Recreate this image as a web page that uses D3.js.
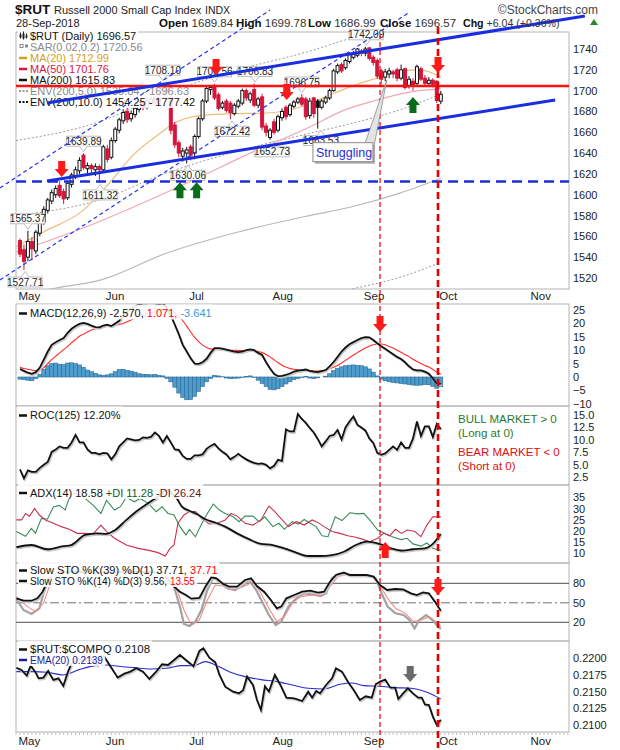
<!DOCTYPE html>
<html>
<head>
<meta charset="utf-8">
<script src="https://cdn.jsdelivr.net/npm/d3@7"></script>
<style>
  body { margin: 0; background: #fff; }
</style>
</head>
<body>
<div id="chart"></div>
<script>
// ---- data (index 0 = 30-Apr-2018, 106 = 28-Sep-2018) ----
const monthTicks = [["May", 1], ["Jun", 23], ["Jul", 44], ["Aug", 65], ["Sep", 88], ["Oct", 107], ["Nov", 130]];

const opens = [1556,1547,1540,1555,1546,1563,1574,1585,1594,1600,
  1609,1603,1597,1610,1618,1623,1638,1625,1628,1624,
  1627,1624,1644,1636,1652,1662,1671,1680,1673,1677,
  1682,1690,1684,1688,1693,1688,1695,1706,1694,1667,
  1650,1637,1640,1646,1640,1656,1673,1690,1701,1705,
  1696,1684,1690,1688,1678,1685,1688,1700,1691,1701,
  1686,1694,1666,1655,1670,1662,1674,1684,1677,1685,
  1689,1693,1692,1676,1693,1690,1684,1689,1693,1700,
  1718,1725,1722,1728,1732,1734,1738,1736,1741,1732,
  1729,1719,1713,1716,1718,1720,1712,1721,1705,1709,
  1707,1721,1712,1707,1710,1709,1689.84];
const highs = [1558,1552,1565.37,1559,1566,1578,1589,1597,1605,1609,
  1613,1606,1613,1621,1627,1636,1639.89,1631,1630,1630,
  1629,1648,1648,1655,1665,1674,1682,1684,1681,1686,
  1691,1693,1694,1696,1696,1697,1708.10,1707,1695,1670,
  1652,1645,1646,1648,1658,1675,1692,1704,1705,1706.56,
  1698,1690,1692,1690,1688,1692,1702,1702,1699,1706.83,
  1694,1697,1669,1664,1673,1677,1683,1686,1688,1691,
  1694,1696.75,1694,1693,1694,1692,1692,1695,1702,1721,
  1726,1727,1731,1737,1738,1741,1740,1742.09,1742,1734,
  1731,1721,1721,1722,1720,1722,1725,1722,1714,1712,
  1725,1723,1715,1713,1712,1710,1699.78];
const lows = [1540,1527.71,1536,1538,1543,1560,1571,1582,1591,1597,
  1597,1591,1595,1607,1615,1620,1624,1620,1619,1618,
  1611.32,1622,1631,1634,1650,1659,1668,1669,1670,1674,
  1679,1681,1682,1685,1684,1686,1693,1694,1658,1645,
  1636,1632,1630.06,1633,1634,1654,1671,1688,1696,1691,
  1681,1682,1679,1672.42,1676,1683,1686,1690,1688,1684,
  1683,1662,1656,1652.73,1658,1660,1671,1672,1675,1683,
  1687,1685,1672,1673,1674,1663.53,1682,1687,1691,1699,
  1716,1717,1720,1726,1730,1732,1733,1733,1729,1724,
  1711,1706,1709,1712,1712,1709,1710,1701,1702,1700,
  1705,1709,1705,1705,1703,1688,1686.99];
const closes = [1543,1536,1555,1548,1564,1575,1586,1595,1602,1606,
  1599,1596,1611,1619,1624,1633,1626,1628,1625,1627,
  1624,1646,1634,1652,1663,1672,1679,1672,1678,1683,
  1689,1684,1690,1692,1688,1694,1704,1697,1662,1648,
  1640,1642,1643,1638,1656,1673,1690,1702,1703,1693,
  1683,1688,1681,1679,1686,1690,1700,1693,1697,1686,
  1692,1665,1660,1662,1660,1675,1680,1675,1686,1689,
  1692,1687,1675,1690,1678,1684,1690,1693,1700,1719,
  1724,1719,1729,1735,1735,1740,1736,1740,1731,1727,
  1714,1711,1718,1719,1716,1712,1720,1703,1711,1705,
  1723,1711,1707,1710,1706,1690.53,1696.57];

// overlays read as [day index, value]
const ma20 = [[-1,1550],[5.8,1564],[15.9,1585],[22.7,1612],[28.5,1638],[35.3,1659],[38.5,1668],[45.3,1676],[53.7,1678],[62.2,1678.5],[70.5,1684],[78.8,1697],[85.6,1707],[90.7,1713],[95.7,1719],[100.8,1720],[106,1712.99]];
const ma50 = [[-1,1545],[15.9,1568],[28.5,1588],[45.3,1617],[58,1640],[73,1665],[81.5,1681],[90,1691],[98.7,1699],[106,1701.76]];
const ma200 = [[-1,1503],[10,1511],[20.2,1518],[37,1544],[53.7,1563],[73,1580],[83.1,1588],[95.7,1601.6],[106,1615.83]];
const envUp5 = [[-1,1580],[20,1595],[37,1621],[54,1641],[73,1659],[83,1668],[96,1682],[106,1696.63]];
const envUp10 = [[-1,1652],[20,1670],[37,1698],[54,1719],[73,1738],[83,1750],[96,1764],[106,1777.42]];
const envDn5 = [[-1,1428],[20,1442],[37,1467],[54,1485],[73,1501],[83,1509],[96,1521],[106,1535.04]];

const macd = [3.0,2.3,1.6,1.2,1.8,3.5,6.5,9.5,12.0,13.0,
  13.8,14.5,16.5,18.0,19.0,19.8,20.2,19.8,19.2,18.6,
  18.5,19.2,19.5,19.0,20.0,21.0,23.0,24.5,25.5,26.5,
  27.0,27.5,27.5,27.8,27.5,27.2,27.5,26.0,23.0,19.5,
  16.0,12.0,9.5,7.0,5.0,4.9,5.5,6.8,9.0,10.8,
  10.8,10.6,10.2,9.8,9.5,9.3,9.5,10.0,10.3,10.0,
  9.0,8.2,5.5,3.2,1.2,0.3,0.4,0.8,1.3,2.0,
  2.4,2.6,2.8,2.3,2.0,1.8,2.2,2.6,4.0,5.6,
  7.5,9.5,11.0,12.2,13.0,13.8,14.5,14.9,14.8,13.8,
  12.6,11.5,10.5,9.5,8.5,7.5,6.7,5.5,4.0,2.8,
  2.5,2.5,2.0,1.2,-0.5,-2.4,-2.57];
const signal = [3.6,3.2,2.9,2.6,2.4,2.6,3.5,5.0,6.5,7.8,
  9.0,10.2,11.4,12.8,14.0,15.2,16.0,16.8,17.5,18.0,
  18.4,18.7,19.0,19.2,19.4,19.6,20.0,20.6,21.3,22.0,
  22.6,23.2,23.6,24.0,24.3,24.6,24.9,25.0,24.7,24.0,
  22.8,21.0,19.0,16.8,14.8,13.2,11.9,11.0,10.5,10.3,
  10.2,10.1,10.1,10.0,10.0,9.9,9.9,9.9,9.8,9.7,
  9.5,9.1,8.4,7.5,6.4,5.4,4.4,3.7,3.2,2.9,
  2.7,2.5,2.4,2.3,2.2,2.2,2.3,2.6,3.0,3.6,
  4.3,5.2,6.2,7.2,8.2,9.1,10.0,10.8,11.5,12.0,
  12.3,12.3,12.0,11.4,10.8,10.0,9.2,8.4,7.6,6.6,
  5.8,5.0,4.3,3.7,2.8,1.8,1.07];
const histogram = [-0.8,-1.0,-1.2,-1.4,-0.6,1.0,2.8,4.2,5.0,5.2,
  4.8,4.6,5.2,5.3,5.0,4.5,3.6,2.6,2.0,1.4,
  0.8,0.6,0.8,1.2,2.0,2.8,2.8,2.4,2.2,1.8,
  1.2,1.0,1.0,0.8,1.0,0.6,0.4,-0.5,-1.8,-3.8,
  -6.0,-7.6,-8.5,-8.4,-7.2,-5.4,-3.6,-1.8,-0.6,0.6,
  0.4,0.1,-0.4,-0.6,-0.5,-0.4,-0.2,0.2,0.4,-0.2,
  -1.2,-2.4,-3.6,-4.6,-4.8,-4.4,-3.6,-2.6,-1.8,-1.0,
  -0.6,-0.2,0.2,-0.4,-0.6,-0.3,0.0,0.3,1.2,2.4,
  3.2,3.8,4.2,4.4,4.5,4.3,4.2,3.8,3.0,1.8,
  0.4,-0.8,-1.4,-1.8,-2.0,-2.2,-2.4,-2.6,-2.8,-3.0,
  -3.1,-3.0,-2.8,-2.9,-3.5,-4.2,-3.64];

const roc = [4.1,2.3,3.9,3.6,3.6,4.4,5.0,5.6,7.6,8.1,
  8.7,8.4,8.4,9.5,11.0,9.5,9.5,8.1,7.4,7.4,
  7.1,7.4,7.3,6.1,7.1,8.7,9.5,10.3,10.1,9.9,
  10.0,10.5,10.4,10.6,11.5,10.8,9.5,10.8,9.5,8.1,
  8.0,6.8,6.2,6.2,6.9,6.9,7.1,8.2,8.8,9.2,
  8.3,7.6,7.1,6.1,6.6,7.2,6.6,6.1,5.7,5.4,
  5.2,5.3,5.0,4.3,4.8,6.0,5.8,12.1,11.7,11.7,
  15.2,14.2,13.4,12.4,11.5,10.2,8.7,9.7,10.8,11.0,
  12.0,10.1,12.5,13.7,14.7,13.0,12.5,11.9,10.3,9.4,
  7.4,7.0,7.3,8.0,8.7,8.0,9.5,8.4,8.4,10.3,
  13.7,10.8,12.7,12.7,10.6,13.2,12.2];

const adx = [[-0.9,12.7],[2.9,13.7],[6.9,11.8],[10.9,13.2],[12.9,13.7],[16.4,18.2],[19.4,18.9],[21.8,18.7],[23.8,20.2],[26.8,24.9],[29.8,29.3],[32.8,33],[35.3,36],[37,38.5],[38.3,36.5],[39.5,34.5],[40.8,30.8],[42.7,29],[44.7,27.4],[46.7,25.2],[49.2,23.7],[51.7,21.9],[54.7,18.9],[57.7,16.3],[60.7,14.2],[63.7,13.7],[66.6,12.2],[69.6,10.3],[72.6,8.8],[75.6,8.8],[78.6,9.2],[81.6,10.7],[84.6,13.7],[87.5,15.2],[90.5,14.2],[93.5,12.2],[96.5,11.2],[98.9,11.8],[102,12.2],[104,14.2],[106,18.58]];
const plusDI = [[-0.9,19.7],[1.4,17.6],[2.9,21.1],[3.9,19],[5.4,25.6],[6.9,25.2],[8.4,30.7],[9.9,31.4],[11.4,29.4],[12.4,34.6],[13.4,37],[14.5,36],[16.4,34.5],[18.4,31.5],[20.4,27.8],[21.8,33.7],[23.8,29.3],[25.3,30.8],[26.8,35],[28.8,33],[30.3,34.5],[32.3,32.3],[34.3,28.6],[35.8,30.8],[37.3,27.8],[38.8,27.1],[40.3,21.9],[41.8,18.2],[42.7,20.7],[44.2,17.4],[45.2,21.1],[46.7,26.3],[48.7,32],[50.2,29.3],[51.7,27.8],[53.7,26.3],[55.2,24.1],[56.7,26.6],[58.7,26.6],[60.2,24.1],[61.7,26.3],[63.7,21.9],[65.2,23.4],[66.6,20.7],[68.6,24.1],[70.1,23],[71.6,25.1],[73.1,23.4],[74.6,21.9],[76.1,17.8],[77.6,17.4],[79.4,26.3],[81.1,24.6],[83.1,28.1],[85.1,27.6],[86.6,27.8],[88.1,24.9],[90.1,20.4],[92.1,18.7],[94.1,17.2],[96,16.1],[97.5,16.7],[99,14.2],[101,13.2],[102.5,14.6],[104,12.2],[106,11.28]];
const minusDI = [[-0.9,24.9],[0.4,24.9],[1.4,27.8],[2.4,26.6],[3.7,30],[4.9,27.1],[6.4,24.9],[8.4,23.4],[10.4,21.9],[12.4,20.7],[14.4,18.9],[16.4,18.9],[18.4,18.6],[20.4,22.6],[21.8,19.7],[23.8,16.7],[26.8,13.7],[29.8,12.2],[32.8,11.2],[34.8,10.3],[36.6,8.8],[37.8,12.2],[38.8,13.7],[39.8,23.4],[41.3,27.1],[42.7,28.6],[44.2,28.6],[45.7,25.6],[47.7,23.1],[49.7,23.4],[51.7,24.9],[53.2,27.8],[54.7,26.6],[56.7,23.4],[58.7,22.6],[60.7,24.9],[62.7,31.1],[64.2,28.6],[65.7,25.6],[67.6,21.9],[69.6,24.1],[71.6,22.6],[73.6,24.9],[75.1,23.7],[76.6,21.9],[78.6,19.7],[80.6,18.9],[82.6,17.8],[84.6,17.2],[86.6,16.1],[88.1,15.2],[90.1,16.7],[91.6,18.9],[93.1,17.8],[94.6,20.7],[96.1,18.9],[97.6,20.4],[99.5,19.7],[101,17.4],[102.5,22.6],[104,26.3],[106,26.24]];

const stoK39 = [[-0.9,56.9],[0.9,53.2],[2.9,53.2],[4.4,56.9],[5.7,67.1],[6.7,80],[8,92],[10,97],[14,98],[20,96],[26,97],[32,98],[36,95],[37.5,85],[38.8,74.8],[40.3,67.1],[41.8,62],[43.2,56.4],[45.2,57.4],[46.7,74.8],[48.2,89.2],[49.5,87.7],[51.2,78.9],[52.7,74.8],[54.7,74.8],[56.7,85.1],[58.2,87.7],[59.7,75.8],[61.5,67.1],[63.2,54.3],[64.7,41.5],[65.8,44.1],[67.1,56.9],[69.1,62],[71.1,67.1],[73.1,68.6],[75.1,65.6],[76.6,67.1],[78.1,82.5],[79.6,92.8],[81.6,96.4],[83.1,92.8],[85.1,92.8],[87.1,92.8],[89.1,90.2],[90.7,77.3],[92.5,69.7],[94.5,71.2],[96.5,70.7],[98.5,64.6],[100,62],[101.5,66.1],[103,64.6],[104.5,51.8],[106,37.71]];
const stoK14 = [[-0.9,55.4],[0.9,38.9],[2.9,32.8],[4.9,41.5],[6.4,74.8],[7.5,90],[10,95],[12,85],[14,95],[18,90],[20,75],[22,90],[26,95],[30,92],[34,88],[37,90],[38.8,74.8],[40.3,44.1],[41.3,17.4],[42.7,14.3],[44.2,21],[45.7,38.9],[47.2,69.7],[48.7,89.2],[50.2,82.5],[52.2,72.3],[54.2,69.7],[56.2,77.3],[57.8,84],[59.5,69.7],[61.2,49.2],[62.7,31.2],[64.4,15.8],[65.8,21],[67.6,44.1],[69.6,56.9],[71.6,64.6],[73.6,63.1],[75.6,60.5],[77.1,64.6],[78.6,87.7],[80.1,94.4],[81.6,96.4],[83.6,91.3],[85.6,91.3],[87.6,92.8],[89.6,87.7],[91.1,64.6],[92.6,44.1],[94.6,33.8],[96.6,31.3],[98.1,23.6],[99.4,10.8],[100.6,23.6],[102.3,31.2],[103.7,24.6],[105,15.8],[106,9.56]];
const stoD3 = [[-0.9,59.5],[1.9,44.1],[3.9,36.4],[5.9,49.2],[7.4,74.8],[9,90],[12,90],[16,90],[20,82],[24,90],[30,92],[36,88],[39.3,74.8],[41.3,38.9],[43.2,15.8],[45.2,23.6],[47.2,54.3],[49.2,77.3],[51.2,75.8],[53.7,69.7],[56.7,75.8],[58.7,82.5],[60.7,64.6],[62.7,41.5],[64.7,21],[66.6,28.7],[68.6,49.2],[70.6,59.5],[73.6,62],[76.1,60.5],[78.1,74.8],[80.1,90.2],[82.6,94.4],[85.6,91.3],[88.6,91.3],[90.6,77.3],[92.6,56.9],[94.6,41.5],[97.1,33.8],[99.1,21],[101.1,23.6],[103.1,28.7],[105.1,19.5],[106,13.55]];

const ratio = [[-0.9,0.21859],[0.4,0.21825],[1.7,0.2174],[2.7,0.2189],[3.9,0.2179],[4.7,0.2170],[5.9,0.2171],[7.1,0.2181],[8.4,0.21675],[9.7,0.2170],[10.9,0.21585],[12.1,0.2180],[12.9,0.2191],[14.5,0.2200],[16,0.2197],[17.5,0.2202],[19.4,0.2190],[20.7,0.22075],[21.8,0.2197],[23.1,0.2185],[24.6,0.2171],[26.3,0.2177],[27.8,0.2180],[29.3,0.2185],[31,0.2180],[32.6,0.2169],[34.3,0.2180],[35.8,0.2191],[37.3,0.2190],[38.8,0.21975],[40.3,0.2205],[41.8,0.21975],[43.7,0.2188],[45.2,0.2211],[46.2,0.2215],[47.7,0.2201],[49.2,0.2194],[50.2,0.2176],[51.7,0.21575],[53.7,0.2150],[55.2,0.21475],[56.2,0.2152],[57.2,0.21725],[58.7,0.2160],[59.7,0.21375],[60.7,0.21225],[61.7,0.2158],[62.7,0.2150],[64.2,0.2175],[65.6,0.2160],[67.1,0.2141],[69.1,0.2140],[71.1,0.2136],[72.6,0.2150],[73.6,0.2141],[74.6,0.2151],[75.6,0.21475],[77.1,0.2160],[78.6,0.2170],[79.6,0.2185],[81.1,0.2180],[82.6,0.2165],[84.1,0.2152],[85.6,0.21375],[87.1,0.2143],[88.6,0.2141],[89.6,0.2161],[90.7,0.2165],[92,0.2168],[93.3,0.2156],[94.5,0.2156],[95.3,0.2139],[96.5,0.21475],[97.7,0.2155],[99,0.21475],[100.3,0.2141],[101.2,0.2141],[102,0.2131],[103,0.2130],[104,0.21125],[105,0.2100],[106,0.2108]];
const ratioEma = [[-0.9,0.2180],[2.9,0.2180],[6.9,0.2179],[10.9,0.2175],[14.9,0.2183],[18.9,0.2189],[21.8,0.2190],[24.8,0.2188],[28.8,0.2186],[32.8,0.2184],[36.8,0.2185],[40.8,0.2189],[43.7,0.2189],[46.7,0.2195],[49.2,0.2190],[52.7,0.2180],[56.7,0.21725],[60.7,0.2168],[64.7,0.2165],[68.6,0.2160],[72.6,0.2155],[76.6,0.2154],[80.6,0.2161],[83.6,0.2163],[86.6,0.2159],[90.6,0.2158],[94.6,0.2156],[98.5,0.2155],[102.5,0.2149],[106,0.2139]];

// annotations on the price chart, in [day index, price]
const priceLabels = [[1.3,1527.71,"L"],[2,1565.37,"H"],[16,1639.89,"H"],[20.2,1611.32,"L"],[36,1708.10,"H"],[42.3,1630.06,"L"],[49,1706.56,"H"],[53.4,1672.42,"L"],[59.2,1706.83,"H"],[63.5,1652.73,"L"],[71,1696.75,"H"],[75.8,1663.53,"L"],[87.2,1742.09,"H"]];
const upperTrend = [[6.8,1688.1],[142.3,1771.7]];
const lowerTrend = [[6.8,1613.2],[134.8,1691]];
const channelA = [[-5.04,1606.5],[63,1777.5]];
const channelB = [[-5.04,1518.1],[98.2,1775.5]];
const supportLevel = 1612.7;
const resistLevel = 1704.5;
const markerDays = [90.7, 105.3];

// ---- layout ----
const FONT = '"Liberation Sans", Arial, sans-serif';
const X0 = 16, X1 = 569;
const x = d3.scaleLinear().domain([-1, 138.3]).range([X0, X1]);
const yPrice = d3.scaleLinear().domain([1520, 1740]).range([278, 49]);
const yMacd = d3.scaleLinear().domain([-10, 25]).range([403.8, 310]);
const yRoc = d3.scaleLinear().domain([2.5, 15]).range([477.3, 415]);
const yAdx = d3.scaleLinear().domain([10, 35]).range([553.3, 497.3]);
const ySto = d3.scaleLinear().domain([20, 80]).range([622.3, 583.3]);
const yRatio = d3.scaleLinear().domain([0.21, 0.22]).range([725, 658.3]);

const svg = d3.select("#chart").append("svg")
  .attr("width", 620).attr("height", 750)
  .style("font-family", FONT);
svg.append("rect").attr("width", 620).attr("height", 750).attr("fill", "#fff");
const defs = svg.append("defs");

const panels = {
  price: { top: 32, bottom: 289 },
  macd: { top: 304, bottom: 406 },
  roc: { top: 406, bottom: 485 },
  adx: { top: 485, bottom: 563 },
  sto: { top: 563, bottom: 641 },
  ratio: { top: 641, bottom: 732 },
};
Object.entries(panels).forEach(([id, p]) => {
  svg.append("rect").attr("x", X0).attr("y", p.top).attr("width", X1 - X0)
    .attr("height", p.bottom - p.top).attr("fill", "none").attr("stroke", "#b4b4b4");
  defs.append("clipPath").attr("id", "clip-" + id).append("rect")
    .attr("x", X0).attr("y", p.top).attr("width", X1 - X0).attr("height", p.bottom - p.top);
  p.g = svg.append("g").attr("clip-path", `url(#clip-${id})`);
});

const pairLine = (y, curve) => d3.line().x(d => x(d[0])).y(d => y(d[1])).curve(curve || d3.curveLinear);
const daily = (arr) => arr.map((v, i) => [i, v]);

const drawLine = (g, pts, y, color, width, opts = {}) => {
  if (opts.shadow) {
    g.append("path").attr("d", pairLine(y, opts.curve)(pts)).attr("fill", "none")
      .attr("stroke", "#c8c8c8").attr("stroke-width", width).attr("transform", "translate(1,1.5)");
  }
  return g.append("path").attr("d", pairLine(y, opts.curve)(pts)).attr("fill", "none")
    .attr("stroke", color).attr("stroke-width", width)
    .attr("stroke-dasharray", opts.dash || null).attr("opacity", opts.opacity || 1);
};

const addAxis = (scale, values, fmt) => {
  const g = svg.append("g").attr("transform", `translate(${X1},0)`)
    .call(d3.axisRight(scale).tickValues(values).tickSize(0).tickPadding(4).tickFormat(fmt));
  g.select(".domain").remove();
  g.selectAll("text").attr("font-size", 11).attr("fill", "#222").attr("font-family", FONT);
};

const addMonths = (yTop) => {
  const g = svg.append("g").attr("transform", `translate(0,${yTop})`)
    .call(d3.axisBottom(x).tickValues(monthTicks.map(d => d[1])).tickSize(0).tickPadding(0)
      .tickFormat((d, k) => monthTicks[k][0]));
  g.select(".domain").remove();
  g.selectAll("text").attr("font-size", 11.5).attr("fill", "#222").attr("font-family", FONT)
    .attr("text-anchor", "start").attr("dx", -6);
};

// a legend is a block of rows; backgrounds go in a layer below all the row texts
const makeLegend = () => {
  const g = svg.append("g");
  return { bg: g.append("g"), fg: g.append("g") };
};
const legendRow = (lgd, yb, marker, mColor, parts, size = 11) => {
  const row = lgd.fg.append("g");
  const bg = lgd.bg.append("rect").attr("fill", "#fff").attr("opacity", 0.88);
  if (marker === "line") {
    row.append("line").attr("x1", 19).attr("x2", 27).attr("y1", yb - 3.5).attr("y2", yb - 3.5)
      .attr("stroke", mColor).attr("stroke-width", 2.5);
  } else if (marker === "dots") {
    row.append("line").attr("x1", 19).attr("x2", 28).attr("y1", yb - 3.5).attr("y2", yb - 3.5)
      .attr("stroke", mColor).attr("stroke-width", 2).attr("stroke-dasharray", "2,1.5");
  } else if (marker === "square") {
    row.append("rect").attr("x", 20).attr("y", yb - 6).attr("width", 3).attr("height", 3)
      .attr("fill", "none").attr("stroke", mColor);
    row.append("rect").attr("x", 25).attr("y", yb - 6).attr("width", 3).attr("height", 3)
      .attr("fill", mColor);
  } else if (marker === "candle") {
    [[20, 2, 6], [23, 1, 8], [26, 3, 5]].forEach(([cx, t, h]) => {
      row.append("line").attr("x1", cx + 0.5).attr("x2", cx + 0.5).attr("y1", yb - 9 + t).attr("y2", yb - 9 + t + h)
        .attr("stroke", "#222").attr("stroke-width", 1);
      row.append("rect").attr("x", cx - 0.5).attr("y", yb - 7 + t).attr("width", 2).attr("height", h - 3).attr("fill", "#222");
    });
  }
  const t = row.append("text").attr("x", 30).attr("y", yb).attr("font-size", size);
  parts.forEach(([s, c]) => t.append("tspan").attr("fill", c).text(s));
  const bb = t.node().getBBox();
  bg.attr("x", 18).attr("y", bb.y - 2.5).attr("width", bb.x + bb.width - 16).attr("height", bb.height + 3);
};

const arrowPath = (cx, ty, dir) => {
  const s = dir === "down" ? -1 : 1;
  const p = [[cx - 3.5, ty + s * 16], [cx + 3.5, ty + s * 16], [cx + 3.5, ty + s * 8], [cx + 7, ty + s * 8],
    [cx, ty], [cx - 7, ty + s * 8], [cx - 3.5, ty + s * 8]];
  return "M" + p.map(q => q.join(",")).join("L") + "Z";
};
const drawArrow = (i, yPix, dir, color) => {
  svg.append("path").attr("d", arrowPath(x(i), yPix, dir)).attr("fill", color);
};

// ---- price panel ----
const pg = panels.price.g;
drawLine(pg, envDn5, yPrice, "#9a9a9a", 1, { dash: "2,2", curve: d3.curveMonotoneX });
drawLine(pg, envUp5, yPrice, "#9a9a9a", 1, { dash: "2,2", curve: d3.curveMonotoneX });
drawLine(pg, envUp10, yPrice, "#9a9a9a", 1, { dash: "2,2", curve: d3.curveMonotoneX });
drawLine(pg, ma200, yPrice, "#b9b9b9", 1.2, { curve: d3.curveMonotoneX });
drawLine(pg, ma50, yPrice, "#f2a7b0", 1.2, { curve: d3.curveMonotoneX });
drawLine(pg, ma20, yPrice, "#e8bf7a", 1.2, { curve: d3.curveMonotoneX });

const bars = closes.map((c, i) => ({ i, o: opens[i], h: highs[i], l: lows[i], c, prev: i ? closes[i - 1] : opens[i] }));
const RED = "#d4163c";
const col = d => (d.c < d.prev ? RED : "#111");
pg.selectAll("line.wick").data(bars).join("line").attr("class", "wick")
  .attr("x1", d => x(d.i)).attr("x2", d => x(d.i))
  .attr("y1", d => yPrice(d.h)).attr("y2", d => yPrice(d.l))
  .attr("stroke", col).attr("stroke-width", 1);
pg.selectAll("rect.body").data(bars).join("rect").attr("class", "body")
  .attr("x", d => x(d.i) - 1.5).attr("width", 3)
  .attr("y", d => yPrice(Math.max(d.o, d.c)))
  .attr("height", d => Math.max(1, Math.abs(yPrice(d.o) - yPrice(d.c))))
  .attr("fill", d => (d.c < d.o ? col(d) : "#fff"))
  .attr("stroke", col).attr("stroke-width", 1);

// price labels
const lg = svg.append("g");
priceLabels.forEach(([i, p, kind]) => {
  const cx = x(i), py = yPrice(p), w = 34, h = 10;
  const by = kind === "H" ? py - 7 - h : py + 7;
  const tipY = kind === "H" ? py - 1.5 : py + 1.5;
  const baseY = kind === "H" ? by + h : by;
  lg.append("rect").attr("x", cx - w / 2).attr("y", by).attr("width", w).attr("height", h)
    .attr("fill", "#fff").attr("stroke", "#bdbdbd").attr("stroke-width", 1);
  lg.append("path").attr("d", `M${cx - 4},${baseY} L${cx},${tipY} L${cx + 4},${baseY}`)
    .attr("fill", "#fff").attr("stroke", "#bdbdbd");
  lg.append("text").attr("x", cx).attr("y", by + 8.6).attr("text-anchor", "middle")
    .attr("font-size", 10).attr("fill", "#222").text(p.toFixed(2));
});

// price legend
const pl = makeLegend();
legendRow(pl, 39.5, "candle", "#222", [["$RUT (Daily) 1696.57", "#111"]]);
legendRow(pl, 50.5, "square", "#8a8a8a", [["SAR(0.02,0.2) 1720.56", "#8a8a8a"]]);
legendRow(pl, 61.5, "line", "#d4a020", [["MA(20) 1712.99", "#d4a020"]]);
legendRow(pl, 72.5, "line", "#dc143c", [["MA(50) 1701.76", "#dc143c"]]);
legendRow(pl, 83.5, "line", "#111", [["MA(200) 1615.83", "#111"]]);
legendRow(pl, 94.5, "dots", "#9a9a9a", [["ENV(200,5.0) 1535.04 - 1696.63", "#8a8a8a"]]);
legendRow(pl, 105.5, "dots", "#111", [["ENV(200,10.0) 1454.25 - 1777.42", "#111"]]);

// trend lines and levels
const trendLine = pairLine(yPrice);
svg.append("path").attr("d", trendLine(channelA)).attr("stroke", "#2233ee").attr("stroke-width", 1.2)
  .attr("stroke-dasharray", "4,3").attr("fill", "none");
svg.append("path").attr("d", trendLine(channelB)).attr("stroke", "#2233ee").attr("stroke-width", 1.2)
  .attr("stroke-dasharray", "4,3").attr("fill", "none");
svg.append("line").attr("x1", X0).attr("x2", X1).attr("y1", yPrice(resistLevel)).attr("y2", yPrice(resistLevel))
  .attr("stroke", "#ff1010").attr("stroke-width", 2.5);
svg.append("line").attr("x1", X0).attr("x2", X1).attr("y1", yPrice(supportLevel)).attr("y2", yPrice(supportLevel))
  .attr("stroke", "#1a2ee0").attr("stroke-width", 2.5).attr("stroke-dasharray", "10,6");
svg.append("path").attr("d", trendLine(upperTrend)).attr("stroke", "#1a2ee0").attr("stroke-width", 3).attr("fill", "none");
svg.append("path").attr("d", trendLine(lowerTrend)).attr("stroke", "#1a2ee0").attr("stroke-width", 3).attr("fill", "none");

addAxis(yPrice, d3.range(1520, 1741, 20), d3.format("d"));
addMonths(292);

// ---- MACD ----
const mg = panels.macd.g;
mg.selectAll("rect.hist").data(daily(histogram)).join("rect").attr("class", "hist")
  .attr("x", d => x(d[0]) - 2).attr("width", 4)
  .attr("y", d => Math.min(yMacd(0), yMacd(d[1])))
  .attr("height", d => Math.abs(yMacd(d[1]) - yMacd(0)))
  .attr("fill", "#4e9ccc").attr("stroke", "#2a6b98").attr("stroke-width", 0.6);
drawLine(mg, daily(signal), yMacd, "#ff2a2a", 1.1, { curve: d3.curveMonotoneX });
drawLine(mg, daily(macd), yMacd, "#111", 1.8, { shadow: true });
legendRow(makeLegend(), 317, "line", "#111", [["MACD(12,26,9) -2.570, ", "#111"], ["1.071, ", "#ff0000"], ["-3.641", "#3a9ad8"]]);
addAxis(yMacd, d3.range(-10, 26, 5), d3.format("d"));

// ---- ROC ----
const rg = panels.roc.g;
drawLine(rg, daily(roc), yRoc, "#111", 1.8, { shadow: true });
legendRow(makeLegend(), 419, "line", "#111", [["ROC(125) 12.20%", "#111"]]);
addAxis(yRoc, d3.range(2.5, 15.1, 2.5), d3.format(".1f"));
[["BULL MARKET > 0", 423, "#2a7a2a"], ["(Long at 0)", 437, "#2a7a2a"], ["BEAR MARKET < 0", 456, "#e01010"], ["(Short at 0)", 469.5, "#e01010"]]
  .forEach(([s, yb, c]) => svg.append("text").attr("x", 458).attr("y", yb).attr("font-size", 11.5).attr("fill", c).text(s));

// ---- ADX ----
const ag = panels.adx.g;
drawLine(ag, plusDI, yAdx, "#3a8c5c", 1.1);
drawLine(ag, minusDI, yAdx, "#c8304e", 1.1);
drawLine(ag, adx, yAdx, "#111", 1.8, { shadow: true, curve: d3.curveMonotoneX });
legendRow(makeLegend(), 496.5, "line", "#111", [["ADX(14) 18.58 ", "#111"], ["+DI 11.28 ", "#0d5a30"], ["-DI 26.24", "#6d1020"]]);
addAxis(yAdx, d3.range(10, 36, 5), d3.format("d"));

// ---- Slow STO ----
const sg = panels.sto.g;
[80, 20].forEach(v => sg.append("line").attr("x1", X0).attr("x2", X1).attr("y1", ySto(v)).attr("y2", ySto(v))
  .attr("stroke", "#6f6f6f").attr("stroke-width", 1.2));
sg.append("line").attr("x1", X0).attr("x2", X1).attr("y1", ySto(50)).attr("y2", ySto(50))
  .attr("stroke", "#6f6f6f").attr("stroke-width", 1).attr("stroke-dasharray", "9,3,2,3");
drawLine(sg, stoK14, ySto, "#a2a2a2", 2.2);
drawLine(sg, stoD3, ySto, "#f08a8a", 1.1);
drawLine(sg, stoK39, ySto, "#111", 1.8, { shadow: true });
const stoLegend = makeLegend();
legendRow(stoLegend, 574, "line", "#111", [["Slow STO %K(39) %D(1) 37.71, ", "#111"], ["37.71", "#ff0000"]]);
legendRow(stoLegend, 584.5, "line", "#111", [["Slow STO %K(14) %D(3) 9.56, ", "#111"], ["13.55", "#ff0000"]], 10);
addAxis(ySto, [20, 50, 80], d3.format("d"));

// ---- $RUT:$COMPQ ----
const cg = panels.ratio.g;
drawLine(cg, ratioEma, yRatio, "#2a2ad0", 1.1, { curve: d3.curveMonotoneX });
drawLine(cg, ratio, yRatio, "#111", 1.8, { shadow: true });
const ratioLegend = makeLegend();
legendRow(ratioLegend, 653, "line", "#111", [["$RUT:$COMPQ 0.2108", "#111"]], 11.5);
legendRow(ratioLegend, 663.5, "line", "#1a1a9a", [["EMA(20) 0.2139", "#1a1a9a"]], 10);
addAxis(yRatio, [0.21, 0.2125, 0.215, 0.2175, 0.22], d3.format(".4f"));
svg.append("g").selectAll("line").data(d3.range(-1, 139)).join("line")
  .attr("x1", d => x(d)).attr("x2", d => x(d)).attr("y1", 732).attr("y2", 735)
  .attr("stroke", "#c4c4c4");
addMonths(737);

// ---- markers ----
svg.append("line").attr("x1", x(markerDays[0])).attr("x2", x(markerDays[0])).attr("y1", 34).attr("y2", 748)
  .attr("stroke", "#e80000").attr("stroke-width", 1.2).attr("stroke-dasharray", "5,3");
svg.append("line").attr("x1", x(markerDays[1])).attr("x2", x(markerDays[1])).attr("y1", 27).attr("y2", 748)
  .attr("stroke", "#e80000").attr("stroke-width", 2.6).attr("stroke-dasharray", "7,4");

const RA = "#ff1a1a", GA = "#0a6b1a";
drawArrow(10.5, yPrice(1617), "down", RA);
drawArrow(49.4, yPrice(1715), "down", RA);
drawArrow(67.2, yPrice(1691), "down", RA);
drawArrow(105.3, yPrice(1717), "down", RA);
drawArrow(40.3, yPrice(1612), "up", GA);
drawArrow(44.5, yPrice(1612), "up", GA);
drawArrow(99, yPrice(1694), "up", GA);
drawArrow(90.7, yMacd(16.8), "down", RA);
drawArrow(92, yAdx(15), "up", RA);
drawArrow(105.3, ySto(62), "down", RA);
drawArrow(98.3, yRatio(0.21645), "down", "#6a6a6a");

// "Struggling" callout
const bx = x(73.8), byy = yPrice(1650), tipX = x(92.4), tipY = yPrice(1710.2);
svg.append("path").attr("d", `M${bx + 52},${byy + 1} L${tipX},${tipY} L${bx + 60},${byy + 9} Z`)
  .attr("fill", "#e4e4e4").attr("stroke", "#8a8a8a").attr("stroke-width", 0.8);
svg.append("rect").attr("x", bx + 2).attr("y", byy + 2).attr("width", 60).attr("height", 19).attr("fill", "#aaa");
svg.append("rect").attr("x", bx).attr("y", byy).attr("width", 60).attr("height", 19)
  .attr("fill", "#fff").attr("stroke", "#8a8a8a");
svg.append("text").attr("x", bx + 3).attr("y", byy + 14).attr("font-size", 12.5).attr("fill", "#2a2ad6").text("Struggling");

// ---- header (drawn last so nothing covers it) ----
svg.append("text").attr("x", 15).attr("y", 13.5).attr("font-size", 13.5).attr("font-weight", "bold")
  .attr("fill", "#111").text("$RUT");
svg.append("text").attr("x", 54).attr("y", 13.5).attr("font-size", 11).attr("fill", "#222")
  .text("Russell 2000 Small Cap Index");
svg.append("text").attr("x", 205).attr("y", 13.5).attr("font-size", 10.5).attr("fill", "#222").text("INDX");
svg.append("text").attr("x", 598).attr("y", 14).attr("font-size", 12).attr("fill", "#444")
  .attr("text-anchor", "end").text("\u00A9StockCharts.com");
svg.append("text").attr("x", 16).attr("y", 27).attr("font-size", 11).attr("fill", "#222").text("28-Sep-2018");
const hdr = [["Open", 159, "1689.84"], ["High", 236, "1699.78"], ["Low", 308, "1686.99"], ["Close", 380, "1696.57"], ["Chg", 463, "+6.04 (+0.36%)"]];
hdr.forEach(([lab, px, val], k) => {
  const t = svg.append("text").attr("x", px).attr("y", 27).attr("font-size", k === hdr.length - 1 ? 10.6 : 11.5).attr("fill", "#111");
  t.append("tspan").attr("font-weight", "bold").text(lab);
  t.append("tspan").attr("fill", "#333").text(" " + val);
});
svg.append("path").attr("d", "M590,25 L598,25 L594,19 Z").attr("fill", "#2a8a2a");
</script>
</body>
</html>
